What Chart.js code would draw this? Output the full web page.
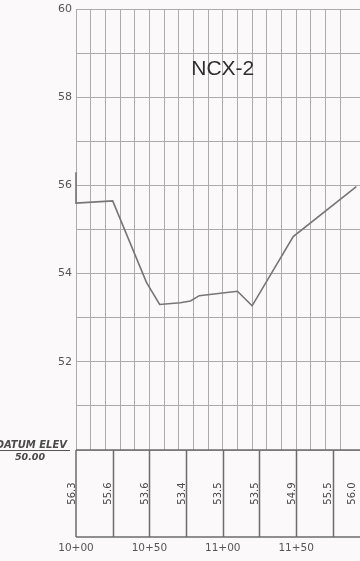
<!DOCTYPE html>
<html>
<head>
<meta charset="utf-8">
<script src="https://cdn.jsdelivr.net/npm/chart.js@4.4.1/dist/chart.umd.min.js"></script>
<style>
  html, body { margin: 0; padding: 0; background: #fbf9f9; }
  #wrap { width: 360px; height: 561px; }
</style>
</head>
<body>
<div id="wrap"><canvas id="c" width="360" height="561"></canvas></div>
<script>
// Ground profile breakpoints (station in ft, elevation)
const profileStations = [1000, 1000, 1025, 1048, 1057, 1071, 1078, 1084, 1110, 1120, 1148, 1191];
const profileElev     = [56.3, 55.6, 55.65, 53.8, 53.3, 53.34, 53.38, 53.5, 53.6, 53.27, 54.84, 55.97];

// Elevation table under the profile
const tableStations = [1000, 1025, 1050, 1075, 1100, 1125, 1150, 1175, 1191];
const tableElev     = [56.3, 55.6, 53.6, 53.4, 53.5, 53.5, 54.9, 55.5, 56.0];

// Labelled ticks
const stationTicks = [1000, 1050, 1100, 1150];
const elevTicks    = [52, 54, 56, 58, 60];

const datumElev  = 50.00;
const chartTitle = 'NCX-2';

const GRID = '#ababab';
const INK  = '#6c6c6c';

function stationLabel(v) {
  const hundreds = Math.floor(v / 100);
  const rest = Math.round(v - hundreds * 100);
  return hundreds + '+' + String(rest).padStart(2, '0');
}

const paperPlugin = {
  id: 'paper',
  beforeDraw(chart) {
    const ctx = chart.ctx;
    ctx.save();
    ctx.fillStyle = '#fbf9f9';
    ctx.fillRect(0, 0, chart.width, chart.height);
    ctx.restore();
  }
};

const sheetPlugin = {
  id: 'sheet',
  afterDraw(chart) {
    const ctx = chart.ctx;
    const xs = chart.scales.x;
    const area = chart.chartArea;
    const top = area.bottom;
    const bottom = top + 87;

    ctx.save();
    // title inside the grid
    ctx.fillStyle = '#2e2e2e';
    ctx.font = '21px "Liberation Sans", Arial, sans-serif';
    ctx.textAlign = 'center';
    ctx.textBaseline = 'middle';
    ctx.fillText(chartTitle, xs.getPixelForValue(1100), 69);

    // elevation table box
    ctx.strokeStyle = INK;
    ctx.lineWidth = 1.5;
    ctx.beginPath();
    ctx.moveTo(area.left, top);
    ctx.lineTo(chart.width + 2, top);
    ctx.moveTo(area.left, bottom);
    ctx.lineTo(chart.width + 2, bottom);
    ctx.moveTo(area.left, top);
    ctx.lineTo(area.left, bottom);
    tableStations.slice(1, -1).forEach(s => {
      const px = Math.round(xs.getPixelForValue(s)) + 0.5;
      ctx.moveTo(px, top);
      ctx.lineTo(px, bottom);
    });
    ctx.stroke();

    // rotated elevation values
    ctx.fillStyle = '#4a4a4a';
    ctx.font = '10px "DejaVu Sans", sans-serif';
    ctx.textAlign = 'center';
    ctx.textBaseline = 'alphabetic';
    tableStations.forEach((s, i) => {
      const px = xs.getPixelForValue(s) - 1.5;
      ctx.save();
      ctx.translate(px, (top + bottom) / 2);
      ctx.rotate(-Math.PI / 2);
      ctx.fillText(tableElev[i].toFixed(1), 0, 0);
      ctx.restore();
    });

    // datum note
    ctx.fillStyle = '#4a4a4a';
    ctx.font = 'italic bold 10px "DejaVu Sans", sans-serif';
    ctx.textAlign = 'right';
    ctx.textBaseline = 'alphabetic';
    ctx.fillText('DATUM ELEV', 67, top - 2);
    ctx.font = 'italic bold 9.5px "DejaVu Sans", sans-serif';
    ctx.textAlign = 'center';
    ctx.fillText(datumElev.toFixed(2), 30, top + 10);
    ctx.strokeStyle = '#555555';
    ctx.lineWidth = 1;
    ctx.beginPath();
    ctx.moveTo(0, top + 0.5);
    ctx.lineTo(70, top + 0.5);
    ctx.stroke();
    ctx.restore();
  }
};

new Chart(document.getElementById('c'), {
  type: 'line',
  data: {
    datasets: [{
      data: profileStations.map((s, i) => ({ x: s, y: profileElev[i] })),
      borderColor: '#767676',
      borderWidth: 1.6,
      pointRadius: 0,
      tension: 0,
      fill: false,
      clip: false
    }]
  },
  options: {
    responsive: false,
    animation: false,
    devicePixelRatio: 1,
    layout: { padding: { top: 9, right: 0, bottom: 0, left: 0 } },
    plugins: { legend: { display: false }, tooltip: { enabled: false }, title: { display: false } },
    scales: {
      x: {
        type: 'linear',
        min: 1000,
        max: 1193.5,
        afterBuildTicks(scale) {
          scale.ticks = scale.ticks.filter(t => Math.abs(t.value % 10) < 1e-6);
        },
        afterFit(scale) {
          // the station row sits below the elevation table
          scale.height = 111;
          scale.paddingLeft = 0;
          scale.paddingRight = 0;
        },
        ticks: {
          stepSize: 10,
          autoSkip: false,
          maxRotation: 0,
          minRotation: 0,
          padding: 92,
          color: '#555555',
          font: { family: '"DejaVu Sans", sans-serif', size: 10.5 },
          callback: v => stationTicks.includes(v) ? stationLabel(v) : ''
        },
        grid: { color: GRID, lineWidth: 1, drawTicks: false },
        border: { display: false }
      },
      y: {
        min: 50,
        max: 60,
        afterFit(scale) {
          scale.width = 76;
          scale.paddingTop = 0;
          scale.paddingBottom = 0;
        },
        ticks: {
          stepSize: 1,
          padding: 4,
          color: '#555555',
          font: { family: '"DejaVu Sans", sans-serif', size: 11 },
          callback: v => elevTicks.includes(v) ? String(v) : ''
        },
        grid: { color: GRID, lineWidth: 1, drawTicks: false },
        border: { display: true, color: GRID }
      }
    }
  },
  plugins: [paperPlugin, sheetPlugin]
});
</script>
</body>
</html>
